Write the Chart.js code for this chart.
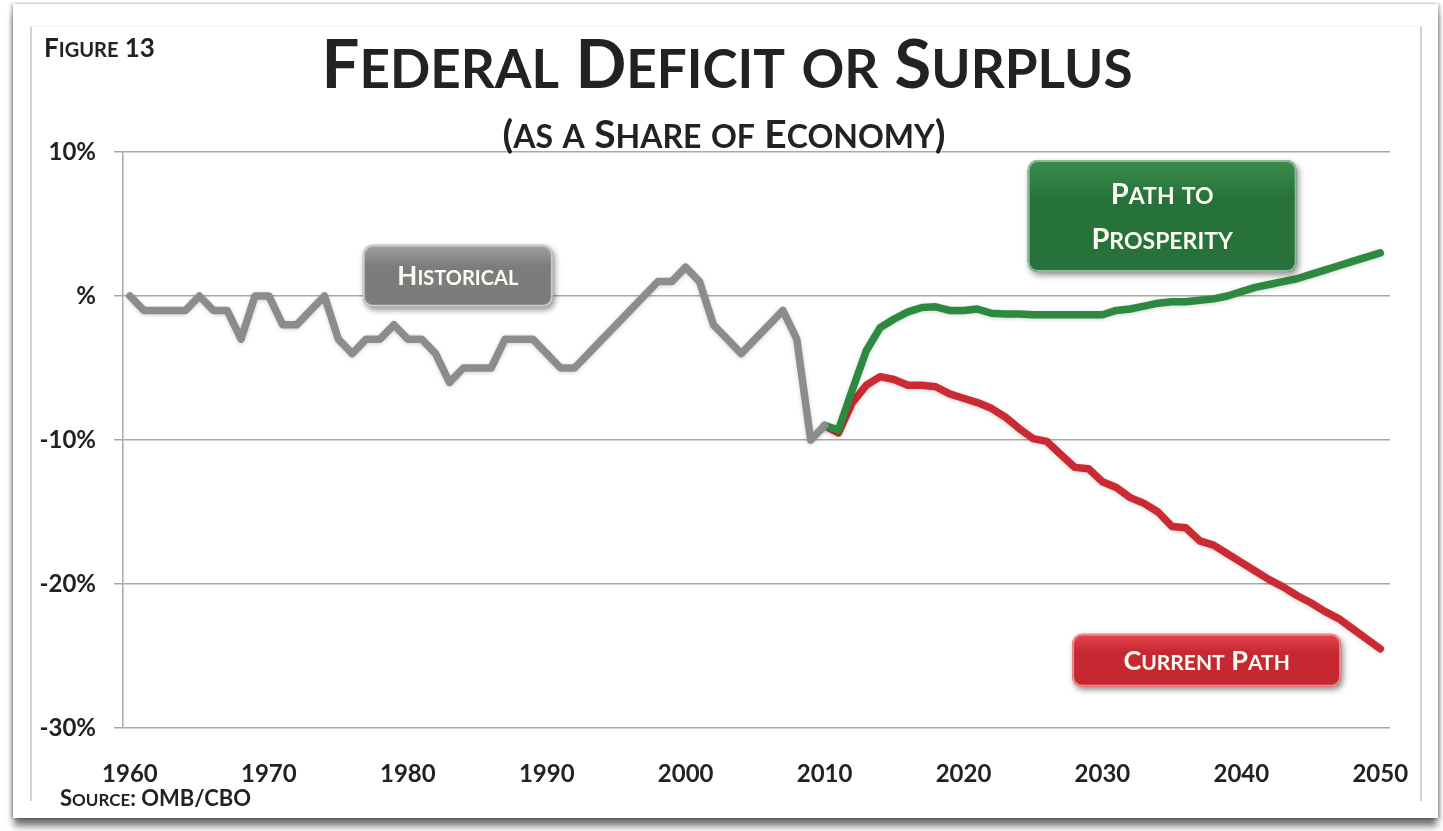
<!DOCTYPE html>
<html lang="en">
<head>
   <meta charset="UTF-8">
   <title>Federal Deficit or Surplus</title>
   <script src="https://cdn.jsdelivr.net/npm/chart.js@4.4.1/dist/chart.umd.min.js"></script>
   <style>
      body { margin: 0; background: #fff; }
      .card {
         position: absolute; left: 13px; top: 4px; width: 1425px; height: 814px;
         background: #fff;
         box-shadow: -2px 0 3px rgba(0,0,0,0.25), 2px 0 3px rgba(0,0,0,0.25), 0 9px 7px -1px rgba(0,0,0,0.55);
      }
      .inner {
         position: absolute; left: 30px; top: 26px; width: 1388px; height: 774px;
         border-left: 2px solid #d2d2d2; border-right: 2px solid #d2d2d2; border-top: 1px solid #f2f2f2;
      }
      #chart { position: absolute; left: 0; top: 0; }
   </style>
</head>
<body>
   <div class="card"></div>
   <div class="inner"></div>
   <canvas id="chart" width="1443" height="831"></canvas>
   <script>
      // years and values (% of economy)
      const histYears = [1960, 1961, 1962, 1963, 1964, 1965, 1966, 1967, 1968, 1969,
                         1970, 1971, 1972, 1973, 1974, 1975, 1976, 1977, 1978, 1979,
                         1980, 1981, 1982, 1983, 1984, 1985, 1986, 1987, 1988, 1989,
                         1990, 1991, 1992, 1993, 1994, 1995, 1996, 1997, 1998, 1999,
                         2000, 2001, 2002, 2003, 2004, 2005, 2006, 2007, 2008, 2009, 2010];
      const historical = [0, -1, -1, -1, -1, 0, -1, -1, -3, 0,
                          0, -2, -2, -1, 0, -3, -4, -3, -3, -2,
                          -3, -3, -4, -6, -5, -5, -5, -3, -3, -3,
                          -4, -5, -5, -4, -3, -2, -1, 0, 1, 1,
                          2, 1, -2, -3, -4, -3, -2, -1, -3, -10, -9];

      const projYears = [2010, 2011, 2012, 2013, 2014, 2015, 2016, 2017, 2018, 2019,
                         2020, 2021, 2022, 2023, 2024, 2025, 2026, 2027, 2028, 2029,
                         2030, 2031, 2032, 2033, 2034, 2035, 2036, 2037, 2038, 2039,
                         2040, 2041, 2042, 2043, 2044, 2045, 2046, 2047, 2048, 2049, 2050];
      const prosperity = [-9, -9.3, -6.5, -3.8, -2.2, -1.6, -1.1, -0.8, -0.75, -1.0,
                          -1.0, -0.9, -1.2, -1.25, -1.25, -1.3, -1.3, -1.3, -1.3, -1.3,
                          -1.3, -1.0, -0.9, -0.7, -0.5, -0.4, -0.4, -0.3, -0.2, 0.0,
                          0.3, 0.6, 0.8, 1.0, 1.2, 1.5, 1.8, 2.1, 2.4, 2.7, 3.0];
      const currentPath = [-9, -9.5, -7.4, -6.2, -5.6, -5.8, -6.2, -6.2, -6.3, -6.8,
                           -7.1, -7.4, -7.8, -8.4, -9.2, -9.9, -10.1, -11.0, -11.9, -12.0,
                           -12.9, -13.3, -14.0, -14.4, -15.0, -16.0, -16.1, -17.0, -17.3, -17.9,
                           -18.5, -19.1, -19.7, -20.2, -20.8, -21.3, -21.9, -22.4, -23.1, -23.8, -24.5];

      const xTickYears = [1960, 1970, 1980, 1990, 2000, 2010, 2020, 2030, 2040, 2050];
      const yTickValues = [-30, -20, -10, 0, 10];
      const yTickLabels = ['-30%', '-20%', '-10%', '%', '10%'];

      const FONT = 'Lato, "Open Sans", sans-serif';
      const INK = '#222';

      const pairs = (xs, ys) => xs.map((x, i) => ({x: x, y: ys[i]}));

      // labels sitting on the plot, placed in axis units
      const callouts = [
         {lines: ['Historical'], x: 1983.6, y: 1.4, w: 190, h: 62, big: 26, small: 20, gap: 0,
          top: '#a3a3a3', bottom: '#7c7c7c', edge: '#c9c9c9'},
         {lines: ['Path to', 'Prosperity'], x: 2034.3, y: 5.55, w: 269, h: 112, big: 29, small: 23, gap: 45,
          top: '#3b8d4d', bottom: '#26723a', edge: '#8fb99a'},
         {lines: ['Current Path'], x: 2037.5, y: -25.3, w: 269, h: 53, big: 27, small: 21, gap: 0,
          top: '#e4464e', bottom: '#c62831', edge: '#e98a8f'}
      ];

      // fake small caps: capitals stay big, lowercase letters become small capitals
      function runsOf(text) {
         const runs = [];
         for (const ch of text) {
            const small = ch !== ch.toUpperCase();
            const last = runs[runs.length - 1];
            const t = small ? ch.toUpperCase() : ch;
            if (last && last.small === small) last.t += t;
            else runs.push({small: small, t: t});
         }
         return runs;
      }

      function smallCaps(ctx, text, x, y, big, small, align, color) {
         const runs = runsOf(text);
         let w = 0;
         runs.forEach(r => {
            ctx.font = 'bold ' + (r.small ? small : big) + 'px ' + FONT;
            r.w = ctx.measureText(r.t).width;
            w += r.w;
         });
         let cx = align === 'center' ? x - w / 2 : (align === 'right' ? x - w : x);
         ctx.textAlign = 'left';
         ctx.textBaseline = 'alphabetic';
         ctx.fillStyle = color;
         runs.forEach(r => {
            ctx.font = 'bold ' + (r.small ? small : big) + 'px ' + FONT;
            ctx.fillText(r.t, cx, y);
            cx += r.w;
         });
      }

      function roundRect(ctx, x, y, w, h, r) {
         ctx.beginPath();
         ctx.moveTo(x + r, y);
         ctx.arcTo(x + w, y, x + w, y + h, r);
         ctx.arcTo(x + w, y + h, x, y + h, r);
         ctx.arcTo(x, y + h, x, y, r);
         ctx.arcTo(x, y, x + w, y, r);
         ctx.closePath();
      }

      const decor = {
         id: 'decor',
         beforeDatasetDraw(chart) {
            const ctx = chart.ctx;
            ctx.save();
            ctx.shadowColor = 'rgba(0,0,0,0.18)';
            ctx.shadowBlur = 4;
            ctx.shadowOffsetY = 1;
         },
         afterDatasetDraw(chart) {
            chart.ctx.restore();
         },
         afterDraw(chart) {
            const ctx = chart.ctx;
            const xs = chart.scales.x, ys = chart.scales.y;

            smallCaps(ctx, 'Federal Deficit or Surplus', 727, 88, 67, 53, 'center', INK);
            smallCaps(ctx, '(as a Share of Economy)', 724, 148, 39, 32, 'center', INK);
            smallCaps(ctx, 'Figure 13', 44, 57, 26, 20, 'left', INK);
            smallCaps(ctx, 'Source: OMB/CBO', 60, 806, 22, 17, 'left', INK);

            callouts.forEach(c => {
               const cx = xs.getPixelForValue(c.x);
               const cy = ys.getPixelForValue(c.y);
               const x0 = cx - c.w / 2, y0 = cy - c.h / 2;
               ctx.save();
               ctx.shadowColor = 'rgba(0,0,0,0.45)';
               ctx.shadowBlur = 6;
               ctx.shadowOffsetX = 2;
               ctx.shadowOffsetY = 3;
               const g = ctx.createLinearGradient(0, y0, 0, y0 + c.h);
               g.addColorStop(0, c.top);
               g.addColorStop(0.35, c.bottom);
               g.addColorStop(1, c.bottom);
               roundRect(ctx, x0, y0, c.w, c.h, 10);
               ctx.fillStyle = g;
               ctx.fill();
               ctx.restore();
               roundRect(ctx, x0 + 1, y0 + 1, c.w - 2, c.h - 2, 9);
               ctx.lineWidth = 2;
               ctx.strokeStyle = c.edge;
               ctx.stroke();

               const first = cy - c.gap * (c.lines.length - 1) / 2;
               c.lines.forEach((t, i) => {
                  const base = first + c.gap * i + c.big * 0.36;
                  smallCaps(ctx, t, cx, base, c.big, c.small, 'center', '#fdfcf2');
               });
            });
         }
      };

      const tickFont = {family: FONT, size: 24, weight: 'bold'};

      new Chart(document.getElementById('chart'), {
         type: 'line',
         data: {
            datasets: [
               {label: 'Historical', data: pairs(histYears, historical), borderColor: '#8c8c8c'},
               {label: 'Path to Prosperity', data: pairs(projYears, prosperity), borderColor: '#2b8a40'},
               {label: 'Current Path', data: pairs(projYears, currentPath), borderColor: '#cc2a33'}
            ]
         },
         options: {
            responsive: false,
            animation: false,
            events: [],
            layout: {padding: {top: 152, right: 53, bottom: 43, left: 0}},
            elements: {
               line: {borderWidth: 7.5, tension: 0, borderJoinStyle: 'round', borderCapStyle: 'round'},
               point: {radius: 0}
            },
            plugins: {legend: {display: false}, tooltip: {enabled: false}, title: {display: false}},
            scales: {
               x: {
                  type: 'linear',
                  min: 1959.5,
                  max: 2050.7,
                  afterBuildTicks: s => { s.ticks = xTickYears.map(v => ({value: v})); },
                  afterFit: s => { s.height = 60; },
                  ticks: {callback: v => String(v), font: tickFont, color: INK, padding: 24,
                          maxRotation: 0, autoSkip: false},
                  grid: {display: false},
                  border: {display: false}
               },
               y: {
                  min: -30,
                  max: 10,
                  afterBuildTicks: s => { s.ticks = yTickValues.map(v => ({value: v})); },
                  afterFit: s => { s.width = 123; },
                  ticks: {callback: v => yTickLabels[yTickValues.indexOf(v)], font: tickFont,
                          color: INK, padding: 18},
                  grid: {color: '#a8a8a8', lineWidth: 1.5, tickLength: 9},
                  border: {color: '#a8a8a8', width: 1.5}
               }
            }
         },
         plugins: [decor]
      });
   </script>
</body>
</html>
